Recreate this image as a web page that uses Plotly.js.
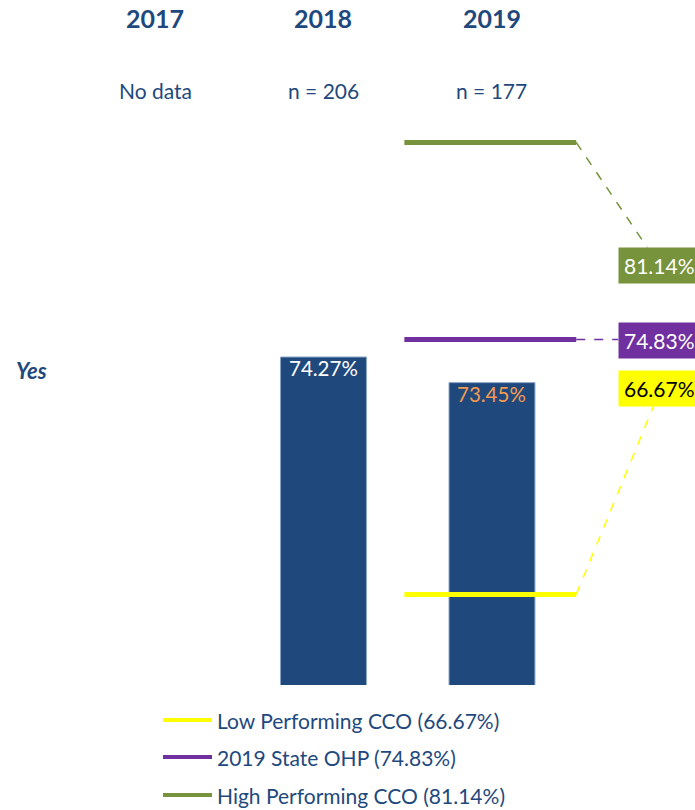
<!DOCTYPE html>
<html>
<head>
<meta charset="utf-8">
<script src="https://cdn.plot.ly/plotly-3.0.1.min.js"></script>
<style>html,body{margin:0;padding:0;background:#fff;}#chart{width:695px;height:810px;}</style>
</head>
<body>
<div id="chart"></div>
<script>
// ---- data ----
const years = ['2017', '2018', '2019'];
const sampleLabels = ['No data', 'n = 206', 'n = 177'];
const rates = [null, 74.27, 73.45];
const rowLabel = 'Yes';
const benchNames = ['Low Performing CCO', '2019 State OHP', 'High Performing CCO'];
const benchValues = [66.67, 74.83, 81.14];

// ---- styles / layout constants ----
const W = 695, H = 810, PLOT_H = 685;
const navy = '#1F497D';
const fontFam = 'Lato, "Noto Sans", sans-serif';
const barTextColors = ['#FFFFFF', '#FFFFFF', '#F39A50'];
const benchColors = ['#FFFF00', '#7030A0', '#77933C'];
const benchTextColors = ['#000000', '#FFFFFF', '#FFFFFF'];
const boxCenters = [388, 340, 265];                       // px from top
const connectorEnds = [[78, 190], [42, 0], [71, -105]];   // px offsets from line end
const legendRows = [720, 757, 795];                       // px from top
const fmt = v => v.toFixed(2) + '%';
const py = px => 1 - px / PLOT_H;

const traces = [];
traces.push({
  type: 'bar', x: years.map((_, i) => i), y: rates, width: 0.51,
  marker: { color: navy, line: { color: '#8AA4C4', width: 1 } },
  showlegend: false, hoverinfo: 'skip'
});
benchNames.forEach((n, i) => {
  traces.push({
    type: 'scatter', mode: 'lines', x: [1.48, 2.5], y: [benchValues[i], benchValues[i]],
    line: { color: benchColors[i], width: 5 },
    name: n + ' (' + fmt(benchValues[i]) + ')', showlegend: false,
    hoverinfo: 'skip'
  });
});

const annotations = [];
years.forEach((y, i) => {
  annotations.push({ xref: 'x', x: i, yref: 'paper', y: py(18), yanchor: 'middle', text: '<b>' + y + '</b>',
    showarrow: false, font: { size: 25, color: navy, family: fontFam } });
  annotations.push({ xref: 'x', x: i, yref: 'paper', y: py(90), yanchor: 'middle', text: sampleLabels[i],
    showarrow: false, font: { size: 21, color: navy, family: fontFam } });
  if (rates[i] != null) {
    annotations.push({ xref: 'x', x: i, yref: 'y', y: rates[i], yanchor: 'middle', yshift: -11, text: fmt(rates[i]),
      showarrow: false, font: { size: 20.5, color: barTextColors[i], family: fontFam } });
  }
});
annotations.push({ xref: 'paper', x: 31 / W, xanchor: 'center', yref: 'paper', y: py(370), yanchor: 'middle',
  text: '<b><i>' + rowLabel + '</i></b>',
  showarrow: false, font: { size: 22, color: navy, family: fontFam } });
benchValues.forEach((v, i) => {
  annotations.push({ xref: 'paper', x: 618 / W, xanchor: 'left', yref: 'paper', y: py(boxCenters[i]), yanchor: 'middle',
    text: fmt(v), showarrow: false, bgcolor: benchColors[i], borderpad: 5,
    font: { size: 21, color: benchTextColors[i], family: fontFam } });
});
// legend (drawn manually so it does not push the plot margins)
benchNames.forEach((n, i) => {
  annotations.push({ xref: 'paper', x: 215 / W, xanchor: 'left', yref: 'paper', y: py(legendRows[i]), yanchor: 'middle',
    text: n + ' (' + fmt(benchValues[i]) + ')', showarrow: false,
    font: { size: 21, color: navy, family: fontFam } });
});

const shapes = benchValues.map((v, i) => ({
  type: 'line', xref: 'x', yref: 'y', xsizemode: 'pixel', ysizemode: 'pixel',
  xanchor: 2.5, yanchor: v, x0: 0, y0: 0, x1: connectorEnds[i][0], y1: connectorEnds[i][1],
  line: { color: benchColors[i], width: 1.5, dash: 'dash' }
}));
benchNames.forEach((n, i) => {
  shapes.push({ type: 'line', xref: 'paper', yref: 'paper', x0: 163 / W, x1: 212 / W,
    y0: py(legendRows[i]), y1: py(legendRows[i]), line: { color: benchColors[i], width: 4 } });
});

const layout = {
  width: W, height: H,
  margin: { l: 0, r: 0, t: 0, b: H - PLOT_H, pad: 0 },
  paper_bgcolor: '#FFFFFF', plot_bgcolor: '#FFFFFF',
  font: { family: fontFam, color: navy },
  xaxis: { range: [-0.92, 3.205], visible: false, fixedrange: true },
  yaxis: { range: [63.77, 85.70], visible: false, fixedrange: true },
  showlegend: false,
  annotations: annotations, shapes: shapes,
  bargap: 0
};
Plotly.newPlot('chart', traces, layout, { displayModeBar: false, staticPlot: true });
</script>
</body>
</html>
